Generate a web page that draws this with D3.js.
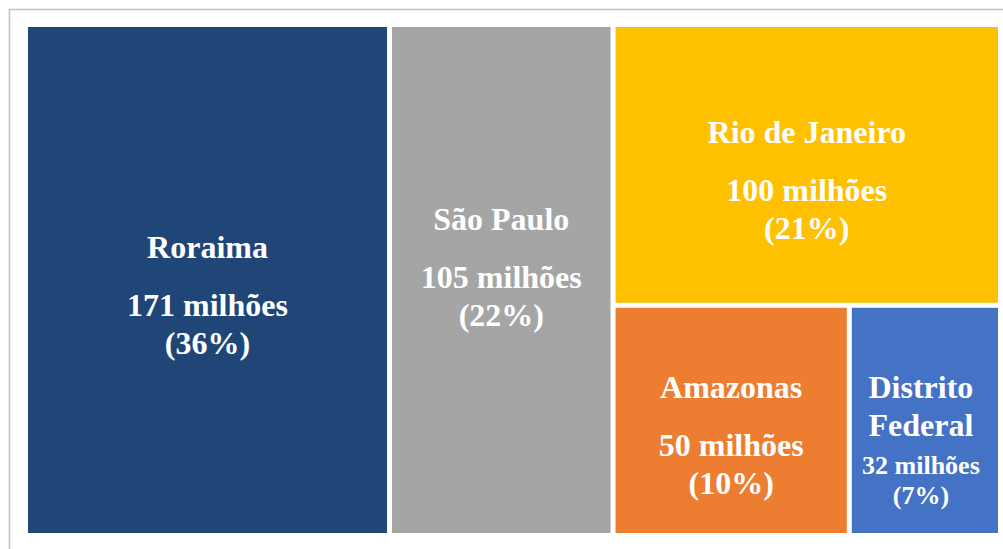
<!DOCTYPE html>
<html>
<head>
<meta charset="utf-8">
<script src="https://cdn.jsdelivr.net/npm/d3@7"></script>
<style>
  body { margin: 0; background: #fff; }
  svg { display: block; }
  .lbl { font-family: "Liberation Serif", "Times New Roman", serif; font-weight: bold; fill: #fff; }
</style>
</head>
<body>
<div id="chart"></div>
<script>
// dados
const states = ["Roraima", "São Paulo", "Rio de Janeiro", "Amazonas", "Distrito Federal"];
const values = [171, 105, 100, 50, 32];
const valueLabels = ["171 milhões", "105 milhões", "100 milhões", "50 milhões", "32 milhões"];
const pctLabels = ["(36%)", "(22%)", "(21%)", "(10%)", "(7%)"];
const colors = ["#204677", "#A5A5A5", "#FFC000", "#ED7D31", "#4472C4"];

const width = 1003, height = 549;
const margin = { top: 27, right: 5, bottom: 16, left: 28 };

const svg = d3.select("#chart").append("svg")
  .attr("width", width)
  .attr("height", height);

// moldura cinza
svg.append("rect")
  .attr("x", 9.5).attr("y", 9.5)
  .attr("width", width + 20).attr("height", height + 20)
  .attr("fill", "none")
  .attr("stroke", "#c4c4c4")
  .attr("stroke-width", 1.6);

// hierarquia: dois primeiros lado a lado, o resto empilhado
const leaf = i => ({ name: states[i], value: values[i], idx: i });
const tree = {
  name: "root",
  children: [
    leaf(0),
    leaf(1),
    { name: "g1", children: [leaf(2), { name: "g2", children: [leaf(3), leaf(4)] }] }
  ]
};

const root = d3.hierarchy(tree).sum(d => d.value || 0);

d3.treemap()
  .tile((node, x0, y0, x1, y1) => {
    if (node.depth % 2 === 0) d3.treemapDice(node, x0, y0, x1, y1);
    else d3.treemapSlice(node, x0, y0, x1, y1);
  })
  .size([width - margin.left - margin.right, height - margin.top - margin.bottom])
  .paddingInner(5)
  (root);

const g = svg.append("g")
  .attr("transform", `translate(${margin.left}, ${margin.top})`);

const cells = g.selectAll("g.cell")
  .data(root.leaves())
  .join("g")
  .attr("class", "cell");

cells.append("rect")
  .attr("x", d => d.x0)
  .attr("y", d => d.y0)
  .attr("width", d => d.x1 - d.x0)
  .attr("height", d => d.y1 - d.y0)
  .attr("fill", d => colors[d.data.idx]);

const labelShift = { "São Paulo": -28 };
const fs = 32;

cells.each(function(d) {
  const cell = d3.select(this);
  const i = d.data.idx;
  const w = d.x1 - d.x0;
  const cx = (d.x0 + d.x1) / 2 - (w < 200 ? 4 : 0);
  const cy = (d.y0 + d.y1) / 2;

  // mede o nome, quebra se não couber
  const probe = cell.append("text").attr("class", "lbl").attr("font-size", fs).text(states[i]);
  let nameLines = [states[i]];
  if (probe.node().getComputedTextLength() > w - 20) nameLines = states[i].split(" ");
  probe.remove();

  let y = cy - 22 + (labelShift[states[i]] || 0);
  nameLines.forEach((t, k) => {
    cell.append("text").attr("class", "lbl")
      .attr("x", cx).attr("y", y + k * 38)
      .attr("text-anchor", "middle")
      .attr("font-size", fs)
      .text(t);
  });
  y += (nameLines.length - 1) * 38;

  // valor, reduz a fonte se precisar
  const vt = cell.append("text").attr("class", "lbl")
    .attr("text-anchor", "middle")
    .attr("font-size", fs)
    .text(valueLabels[i]);
  let vfs = fs;
  const vw = vt.node().getComputedTextLength();
  if (vw > w - 24) vfs = Math.floor(fs * (w - 24) / vw);
  const gap = nameLines.length > 1 ? 38 : 58;
  vt.attr("font-size", vfs).attr("x", cx).attr("y", y + gap);

  cell.append("text").attr("class", "lbl")
    .attr("x", cx).attr("y", y + gap + (vfs < fs ? 30 : 38))
    .attr("text-anchor", "middle")
    .attr("font-size", vfs)
    .text(pctLabels[i]);
});
</script>
</body>
</html>
